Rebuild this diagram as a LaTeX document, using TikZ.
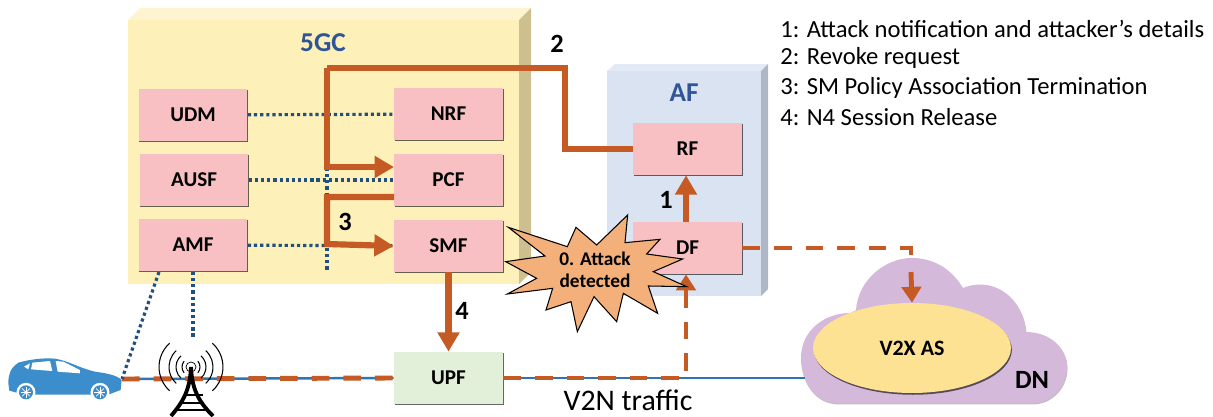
\documentclass[tikz,border=0pt]{standalone}
\usepackage{fontspec}
\setmainfont{Carlito}
\usepackage{xcolor}
\usetikzlibrary{arrows.meta,shadows,shapes.geometric}

\definecolor{coreface}{HTML}{FEF0B9}
\definecolor{coretop}{HTML}{FEF5D0}
\definecolor{coreside}{HTML}{CDBF8E}
\definecolor{afface}{HTML}{D9E3F2}
\definecolor{aftop}{HTML}{E3EAF5}
\definecolor{afside}{HTML}{AEB7C6}
\definecolor{boxpink}{HTML}{F8C0C2}
\definecolor{boxgreen}{HTML}{E2EFD9}
\definecolor{title}{HTML}{2F5597}
\definecolor{signal}{HTML}{C55A25}
\definecolor{dots}{HTML}{1F5080}
\definecolor{traffic}{HTML}{2E75B6}
\definecolor{carblue}{HTML}{3C8DCC}
\definecolor{burst}{HTML}{F4B07A}
\definecolor{cloudfill}{HTML}{D5B9DA}
\definecolor{asfill}{HTML}{FDE293}

\tikzset{
  nfbox/.style={fill=boxpink, minimum width=2.18cm, minimum height=1.04cm, inner sep=0pt,
    font=\fontsize{12}{14}\selectfont\bfseries,
    drop shadow={shadow xshift=.5pt, shadow yshift=-.7pt, opacity=.6, fill=black}},
  titletext/.style={text=title, font=\fontsize{15.5}{18}\selectfont\bfseries},
  steptext/.style={font=\fontsize{15}{18}\selectfont\bfseries},
  legendtext/.style={anchor=west, inner sep=0pt, font=\fontsize{14}{16}\selectfont},
  dotline/.style={dots, line width=1.8pt, dash pattern=on 1.8pt off 1.7pt},
  signalline/.style={signal, line width=3.5pt},
  signalarrow/.style={signalline, -{Triangle[length=11pt,width=12pt]}},
  dashline/.style={signal, line width=2.8pt, dash pattern=on 10pt off 8pt},
  dasharrow/.style={signal, line width=2.8pt, -{Triangle[length=9pt,width=11pt]}}
}

\begin{document}
\begin{tikzpicture}[x=.02cm,y=-.02cm]
  \useasboundingbox (0,0) rectangle (1213,416);

  % 5GC
  \fill[coretop] (128,20) -- (140,8) -- (531,8) -- (519,20) -- cycle;
  \fill[coreside] (519,20) -- (531,8) -- (531,272) -- (519,284) -- cycle;
  \fill[coreface] (128,20) rectangle (519,284);
  \node[titletext] (core) at (323,43) {5GC};

  % AF
  \fill[aftop] (607,71) -- (615,64) -- (768,64) -- (761,71) -- cycle;
  \fill[afside] (761,71) -- (768,64) -- (768,289) -- (761,296) -- cycle;
  \fill[afface] (607,71) rectangle (761,296);
  \node[titletext] (af) at (684,93) {AF};

  % DN
  \fill[cloudfill, drop shadow={shadow xshift=.3pt, shadow yshift=-.8pt, opacity=.25, fill=black}]
    (838,403) .. controls (815,403) and (801,382) .. (801,358)
    .. controls (801,330) and (825,313) .. (850,313) -- (856,310)
    .. controls (858,280) and (885,258) .. (912,258)
    .. controls (935,258) and (952,270) .. (963,288)
    .. controls (995,275) and (1024,300) .. (1026,332)
    .. controls (1050,332) and (1067,348) .. (1067,367)
    .. controls (1067,388) and (1050,403) .. (1033,403) -- cycle;
  \node[font=\fontsize{15}{18}\selectfont\bfseries] (dn) at (1032,380) {DN};

  % Functions
  \node[nfbox] (udm) at (193,115) {UDM};
  \node[nfbox] (nrf) at (448.5,114) {NRF};
  \node[nfbox] (ausf) at (194,180) {AUSF};
  \node[nfbox] (pcf) at (448.5,180) {PCF};
  \node[nfbox] (amf) at (193,245) {AMF};
  \node[nfbox] (smf) at (448.5,246) {SMF};
  \node[nfbox] (rf) at (687.5,149) {RF};
  \node[nfbox] (df) at (687.5,248) {DF};
  \node[nfbox, fill=boxgreen] (upf) at (448.5,378) {UPF};
  \node[ellipse, fill=asfill, minimum width=3.96cm, minimum height=1.8cm, inner sep=0pt,
    font=\fontsize{12.5}{15}\selectfont\bfseries,
    drop shadow={shadow xshift=.5pt, shadow yshift=-1pt, opacity=.6, fill=black}] (as) at (912,348) {V2X AS};

  % Free ends
  \coordinate (car) at (122,379);
  \coordinate (mast) at (193,338);
  \coordinate (amfa) at (159,272);
  \coordinate (amfb) at (193,272);
  \coordinate (busa) at (327,168);
  \coordinate (busb) at (327,271);
  \coordinate (pcfin) at (394,167);
  \coordinate (pcfout) at (394,197);
  \coordinate (corner) at (327,68);
  \coordinate (cloudin) at (805,378);
  \coordinate (dfin) at (686,274.5);
  \coordinate (dfup) at (686,300);

  % Traffic
  \draw[traffic, line width=1.4pt] (car) -- (upf.west);
  \draw[traffic, line width=1.4pt] (upf.east) -- (cloudin);
  \draw[dashline] (car) -- (upf.west);
  \draw[dashline] (upf.east) -- (686,378) -- (dfup);
  \draw[dasharrow] (dfup) -- (dfin);
  \draw[dashline] (df.east) -- (911,248) -- (911,258);
  \draw[dasharrow] (911,272) -- (as.north);

  % Control plane
  \draw[dotline] (udm) -- (nrf);
  \draw[dotline] (ausf) -- (pcf);
  \draw[dotline] (amf) -- (smf);
  \draw[dotline] (busa) -- (busb);
  \draw[dotline] (amfa) -- (car);
  \draw[dotline] (amfb) -- (mast);

  % Signalling
  \draw[signalline, line width=3pt, line join=miter] (rf.west) -- (565,149) -- (565,68) -- (corner);
  \draw[signalarrow] (corner) -- (327,167) -- (pcfin);
  \draw[signalarrow] (pcfout) -- (327,197) -- (327,244) -- (smf.west);
  \draw[signalarrow] (smf.south) -- (upf.north);
  \draw[signalarrow] (df.north -| dfin) -- (rf.south -| dfin);
  \node[steptext] (one) at (666,200) {1};
  \node[steptext] (two) at (557,44) {2};
  \node[steptext] (three) at (345,222) {3};
  \node[steptext] (four) at (462,311) {4};

  % Attack
  \begin{scope}[shift={(490,50)}, x=.00667cm, y=-.00667cm]
    \draw[fill=burst, line width=.6pt, line join=miter]
      (55,532) -- (232,590) -- (258,532) -- (320,585) -- (413,495) -- (405,578)
      -- (510,568) -- (470,612) -- (578,627) -- (490,665) -- (590,710) -- (475,708)
      -- (503,790) -- (400,730) -- (380,815) -- (312,740) -- (262,845) -- (243,755)
      -- (168,780) -- (188,715) -- (52,732) -- (140,685) -- (47,635) -- (165,618) -- cycle;
  \end{scope}
  \node[align=center, font=\fontsize{11}{12.5}\selectfont\bfseries] (attack) at (595,270) {0. Attack\\detected};

  % Car
  \begin{scope}[shift={(0,260)}, x=.00667cm, y=-.00667cm]
    \fill[carblue] (25,370) .. controls (25,345) and (30,325) .. (55,308)
      .. controls (90,298) and (130,293) .. (165,296)
      .. controls (205,302) and (240,325) .. (285,335)
      .. controls (320,340) and (350,345) .. (365,360)
      -- (362,390) -- (330,402) -- (270,404) -- (110,404) -- (50,398) -- (28,392) -- cycle;
    \fill[white] (72,320) -- (90,310) -- (85,328) -- cycle;
    \fill[white] (97,308) -- (150,303) -- (157,333) -- (93,328) -- cycle;
    \fill[white] (167,303) -- (190,305) -- (240,330) -- (240,340) -- (173,335) -- cycle;
    \foreach \x in {78, 300} {
      \fill[white] (\x,397) circle (.19cm);
      \fill[carblue] (\x,397) circle (.14cm);
      \fill[white] (\x,397) circle (.03cm);
      \foreach \a in {0, 45, ..., 315}
        \draw[white, line width=.4pt] (\x,397) -- ++(\a:.11cm);
    }
  \end{scope}

  % Tower
  \foreach \r in {.3, .44, .64} {
    \draw[line width=.6pt] (191,367) ++(48:\r cm) arc[start angle=48, end angle=-48, radius=\r cm];
    \draw[line width=.6pt] (191,367) ++(132:\r cm) arc[start angle=132, end angle=228, radius=\r cm];
  }
  \draw[line width=.6pt] (191,367) ++(40:.18cm) arc[start angle=40, end angle=-40, radius=.18cm];
  \draw[line width=.6pt] (191,367) ++(140:.18cm) arc[start angle=140, end angle=220, radius=.18cm];
  \draw[line width=.4pt] (191,367) circle (.1cm);
  \draw[line width=2.2pt] (191,367) .. controls (190,390) and (183,402) .. (171,416);
  \draw[line width=2.2pt] (191,367) .. controls (192,390) and (199,402) .. (213,416);
  \draw[line width=1.5pt] (184,395) -- (203,395);
  \draw[line width=1.5pt] (180,403) -- (204,403);
  \draw[line width=1.5pt] (175,410) -- (208,410);

  % Labels
  \node[inner sep=0pt, font=\fontsize{17}{20}\selectfont] (traffictext) at (628,400) {V2N traffic};
  \node[legendtext] (lega) at (780,29) {1: Attack notification and attacker’s details};
  \node[legendtext] (legb) at (780,58) {2: Revoke request};
  \node[legendtext] (legc) at (780,88) {3: SM Policy Association Termination};
  \node[legendtext] (legd) at (780,117) {4: N4 Session Release};
\end{tikzpicture}
\end{document}
